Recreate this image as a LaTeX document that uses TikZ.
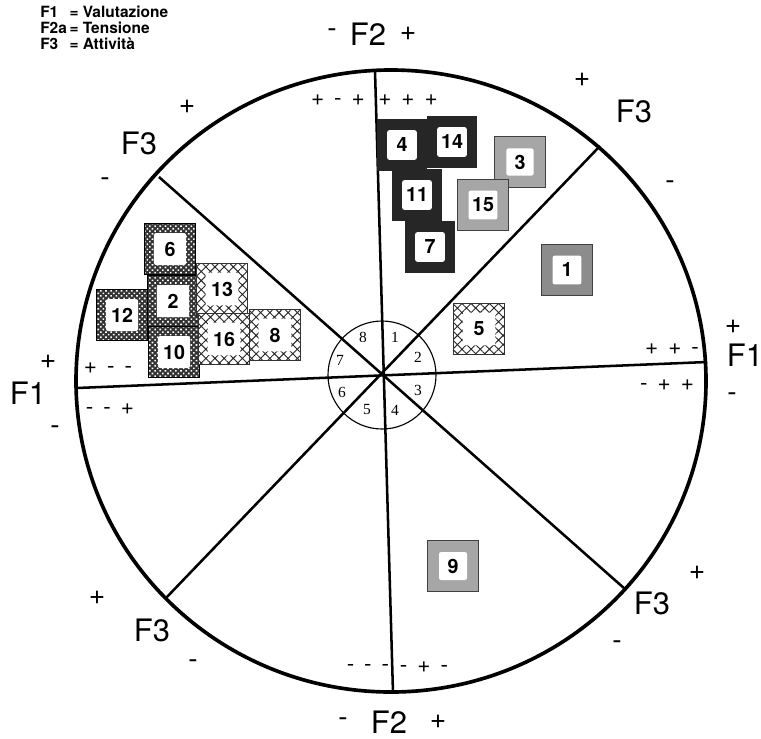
\documentclass[tikz,border=0pt]{standalone}
\usepackage{fontspec}
\setmainfont{TeX Gyre Heros}
\newfontfamily\tms{Liberation Serif}
\usetikzlibrary{patterns.meta}

\begin{document}
\begin{tikzpicture}[x=0.025cm, y=-0.025cm,
  rim/.style={line width=2.6pt},
  axis/.style={line width=1.8pt},
  fac/.style={font=\fontsize{22}{24}\selectfont, inner sep=0pt},
  sgn/.style={font=\fontsize{20}{22}\selectfont, inner sep=0pt},
  trip/.style={font=\fontsize{16}{18}\selectfont, inner sep=0pt},
  oct/.style={font=\tms\fontsize{11}{13}\selectfont, inner sep=0pt},
  outer/.style={minimum width=1.27cm, minimum height=1.29cm, inner sep=0pt},
  darkbox/.style={outer, fill=black!85},
  graybox/.style={outer, draw=black!75, line width=0.8pt, fill=black!35},
  dotbox/.style={outer, draw=black, line width=0.9pt, preaction={fill=black!80},
    pattern={Dots[distance=2.6pt, radius=0.8pt, angle=45]}, pattern color=white},
  hatchbox/.style={outer, draw=black!80, line width=0.7pt, preaction={fill=white},
    pattern={Hatch[distance=4.6pt, angle=45, line width=0.65pt]}, pattern color=black!85},
  num/.style={fill=white, rounded corners=1.5pt, minimum width=#1, minimum height=#1,
    inner sep=0pt, font=\fontsize{14}{16}\bfseries},
  num/.default=0.74cm
]
  \useasboundingbox (0,0) rectangle (761,738);

  \node[anchor=north west, inner sep=0pt, font=\fontsize{11}{9.6}\bfseries] (leg) at (40,6)
    {\begin{tabular}{@{}l@{\,}l@{}}F1 & = Valutazione\\ F2a & = Tensione\\ F3 & = Attività\end{tabular}};

  \coordinate (o) at (382,375);
  \coordinate (t) at (375,71);
  \coordinate (b) at (393,693);
  \coordinate (l) at (77,388);
  \coordinate (r) at (707,362);
  \coordinate (ul) at (159,177);
  \coordinate (lr) at (625,589);
  \coordinate (ur) at (600,146);
  \coordinate (ll) at (165,599);

  \draw[rim] (391,381) ellipse [x radius=315, y radius=311];
  \draw[axis] (t) -- (b);
  \draw[axis] (l) -- (r);
  \draw[axis] (ul) -- (lr);
  \draw[axis] (ur) -- (ll);
  \draw[line width=0.8pt] (o) circle [radius=54];

  \node[oct] (o1) at (395,337) {1};
  \node[oct] (o2) at (418,357) {2};
  \node[oct] (o3) at (418,390) {3};
  \node[oct] (o4) at (395,410) {4};
  \node[oct] (o5) at (367,410) {5};
  \node[oct] (o6) at (342,392) {6};
  \node[oct] (o7) at (340,360) {7};
  \node[oct] (o8) at (363,337) {8};

  \node[sgn] (f2tm) at (332,33) {-};
  \node[fac] (f2t) at (368,34) {F2};
  \node[sgn] (f2tp) at (408,34) {+};
  \node[sgn] (f2bm) at (343,722) {-};
  \node[fac] (f2b) at (389,722) {F2};
  \node[sgn] (f2bp) at (438,722) {+};
  \node[sgn] (f1rp) at (733,327) {+};
  \node[fac] (f1r) at (745,355) {F1};
  \node[sgn] (f1rm) at (732,397) {-};
  \node[sgn] (f1lp) at (48,362) {+};
  \node[fac] (f1l) at (28,393) {F1};
  \node[sgn] (f1lm) at (55,430) {-};
  \node[sgn] (f3ulp) at (187,107) {+};
  \node[fac] (f3ul) at (139,143) {F3};
  \node[sgn] (f3ulm) at (105,182) {-};
  \node[sgn] (f3urp) at (582,80) {+};
  \node[fac] (f3ur) at (634,111) {F3};
  \node[sgn] (f3urm) at (670,185) {-};
  \node[sgn] (f3llp) at (97,598) {+};
  \node[fac] (f3ll) at (152,630) {F3};
  \node[sgn] (f3llm) at (193,664) {-};
  \node[sgn] (f3lrp) at (697,573) {+};
  \node[fac] (f3lr) at (652,603) {F3};
  \node[sgn] (f3lrm) at (617,645) {-};

  \node[trip] (s8) at (338,100) {+\, -\, +};
  \node[trip] (s1) at (408,100) {+\, +\, +};
  \node[trip] (s2) at (672,349) {+\, +\, -};
  \node[trip] (s3) at (667,385) {-\, +\, +};
  \node[trip] (s7) at (108,368) {+\, -\, -};
  \node[trip] (s6) at (110,409) {-\, -\, +};
  \node[trip] (s5) at (368,668) {-\, -\, -};
  \node[trip] (s4) at (424,667) {-\, +\, -};

  \node[darkbox] (b4) at (402,145) {};
  \node[darkbox] (b14) at (452,142) {};
  \node[darkbox] (b11) at (417,195) {};
  \node[darkbox] (b7) at (430,247) {};
  \node[num] (n4) at (b4) {4};
  \node[num] (n14) at (b14) {14};
  \node[num] (n11) at (b11) {11};
  \node[num] (n7) at (b7) {7};

  \node[graybox] (b3) at (520,162) {};
  \node[graybox] (b15) at (483,205) {};
  \node[graybox, fill=black!45] (b1) at (567,270) {};
  \node[graybox] (b9) at (453,566) {};
  \node[num=0.68cm] (n3) at (b3) {3};
  \node[num=0.72cm] (n15) at (b15) {15};
  \node[num=0.72cm] (n1) at (b1) {1};
  \node[num=0.7cm] (n9) at (b9) {9};

  \node[dotbox] (b6) at (170,249) {};
  \node[dotbox] (b2) at (173,301) {};
  \node[dotbox] (b12) at (122,315) {};
  \node[dotbox] (b10) at (174,352) {};
  \node[num=0.8cm] (n6) at (b6) {6};
  \node[num=0.8cm] (n2) at (b2) {2};
  \node[num=0.8cm] (n12) at (b12) {12};
  \node[num=0.8cm] (n10) at (b10) {10};

  \node[hatchbox] (b13) at (222,289) {};
  \node[hatchbox] (b16) at (224,339) {};
  \node[hatchbox] (b8) at (275,335) {};
  \node[hatchbox] (b5) at (479,329) {};
  \node[num=0.82cm] (n13) at (b13) {13};
  \node[num=0.82cm] (n16) at (b16) {16};
  \node[num=0.82cm] (n8) at (b8) {8};
  \node[num=0.82cm] (n5) at (b5) {5};
\end{tikzpicture}
\end{document}
